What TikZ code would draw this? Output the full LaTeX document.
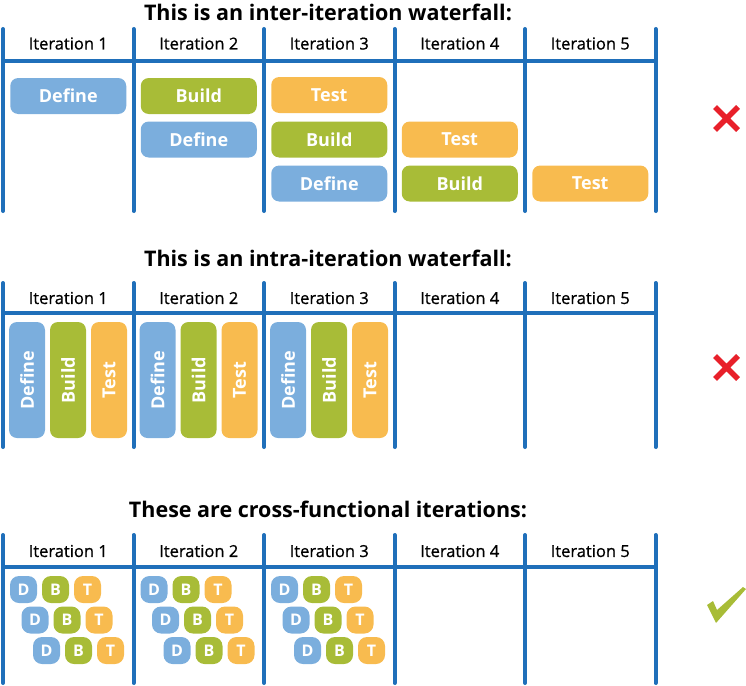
\documentclass[tikz,border=0pt]{standalone}
\usepackage{fontspec}
\setmainfont{Open Sans}
\newfontfamily\headfont{Open Sans}[FakeBold=0.8]
\definecolor{lineblue}{HTML}{1F6FBA}
\definecolor{defblue}{HTML}{7BAEDD}
\definecolor{buildgreen}{HTML}{A8BC37}
\definecolor{testorange}{HTML}{F8BB4F}
\definecolor{crossred}{HTML}{E8202A}

\tikzset{
  gridline/.style={lineblue, line width=4pt, line cap=round},
  headline/.style={lineblue, line width=4pt},
  title/.style={font=\bfseries\fontsize{21.5}{24}\selectfont, text=black},
  header/.style={font=\headfont\fontsize{16.5}{18}\selectfont, text=black},
  task/.style={rounded corners=8pt, text=white, inner sep=0pt,
    font=\bfseries\fontsize{18}{20}\selectfont},
  wide/.style={task, minimum width=116pt, minimum height=36pt},
  tall/.style={task, minimum width=116pt, minimum height=36pt, rotate=90},
  tiny/.style={task, rounded corners=9pt, minimum size=27pt,
    font=\bfseries\fontsize{16}{18}\selectfont},
  define/.style={fill=defblue},
  build/.style={fill=buildgreen},
  test/.style={fill=testorange},
}

\begin{document}
\begin{tikzpicture}[x=1pt, y=-1pt]
    \useasboundingbox (0,0) rectangle (746,685);

    % titles
    \node[title] (t1) at (328,12) {This is an inter-iteration waterfall:};
    \node[title] (t2) at (328,258) {This is an intra-iteration waterfall:};
    \node[title] (t3) at (328,509) {These are cross-functional iterations:};

    % the three grids
    \foreach \top/\hl/\bot/\hy/\s in {29/61/211/43.5/a, 283/313/447/298/b, 535/567/683/551/c} {
        \draw[headline] (3,\hl) -- (655.5,\hl);
        \foreach \i in {0,...,5}
            \draw[gridline] (3+130.5*\i,\top) -- (3+130.5*\i,\bot);
        \foreach \i in {1,...,5}
            \node[header] (\s-h\i) at (3+130.5*\i-65.25,\hy) {Iteration \i};
    }

    % inter-iteration waterfall
    \node[wide, define] (a-d1) at (68.25,96) {Define};
    \node[wide, build] (a-b2) at (198.75,96) {Build};
    \node[wide, define] (a-d2) at (198.75,139.5) {Define};
    \node[wide, test] (a-t3) at (329.25,95) {Test};
    \node[wide, build] (a-b3) at (329.25,139.5) {Build};
    \node[wide, define] (a-d3) at (329.25,183.5) {Define};
    \node[wide, test] (a-t4) at (459.75,139.5) {Test};
    \node[wide, build] (a-b4) at (459.75,183.5) {Build};
    \node[wide, test] (a-t5) at (590.25,183.5) {Test};

    % intra-iteration waterfall
    \foreach \i in {0,1,2} {
        \node[tall, define] (b-d\i) at (27+130.5*\i,380) {Define};
        \node[tall, build] (b-b\i) at (68+130.5*\i,380) {Build};
        \node[tall, test] (b-t\i) at (109+130.5*\i,380) {Test};
    }

    % cross-functional iterations
    \foreach \i in {0,1,2}
        \foreach \r in {0,1,2} {
            \node[tiny, define] (c-d\i\r) at (23.5+130.5*\i+11.5*\r,589.5+30.5*\r) {D};
            \node[tiny, build] (c-b\i\r) at (55.5+130.5*\i+11.5*\r,589.5+30.5*\r) {B};
            \node[tiny, test] (c-t\i\r) at (87.5+130.5*\i+11.5*\r,589.5+30.5*\r) {T};
        }

    % verdicts
    \draw[crossred, line width=5.5pt] (715,107) -- (738,130) (738,107) -- (715,130);
    \draw[crossred, line width=5.5pt] (715,356) -- (738,379) (738,356) -- (715,379);
    \fill[buildgreen] (707,605) -- (713,601) -- (717,610) -- (743,587)
        -- (746,589) -- (716,623) -- cycle;
\end{tikzpicture}
\end{document}
